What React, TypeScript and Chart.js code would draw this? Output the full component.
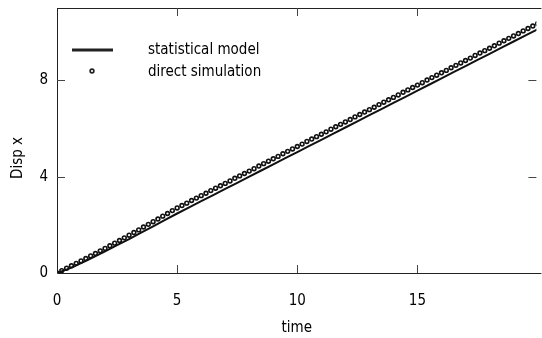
import React, { useEffect, useRef } from "react";
import { Chart, registerables } from "chart.js";

Chart.register(...registerables);

const simTimes: number[] = Array.from({ length: 101 }, (_, i) => Math.round(i * 20) / 100);
const simValues: number[] = [
  0, 0.1, 0.2, 0.3, 0.4, 0.5, 0.6, 0.71, 0.81, 0.92,
  1.02, 1.13, 1.24, 1.35, 1.46, 1.57, 1.68, 1.79, 1.91, 2.02,
  2.13, 2.24, 2.36, 2.47, 2.59, 2.7, 2.8, 2.9, 3.01, 3.11,
  3.21, 3.31, 3.42, 3.52, 3.62, 3.72, 3.82, 3.93, 4.03, 4.13,
  4.23, 4.33, 4.44, 4.54, 4.64, 4.74, 4.84, 4.95, 5.05, 5.15,
  5.25, 5.35, 5.46, 5.56, 5.66, 5.76, 5.86, 5.97, 6.07, 6.17,
  6.27, 6.37, 6.48, 6.58, 6.68, 6.78, 6.88, 6.99, 7.09, 7.19,
  7.29, 7.39, 7.5, 7.6, 7.7, 7.8, 7.9, 8.01, 8.11, 8.21,
  8.31, 8.41, 8.52, 8.62, 8.72, 8.82, 8.92, 9.03, 9.13, 9.23,
  9.33, 9.43, 9.54, 9.64, 9.74, 9.84, 9.94, 10.05, 10.15, 10.25,
  10.35,
];
const modelTimes: number[] = [0, 0.5, 1, 1.5, 2, 3, 4, 5, 6, 7, 8, 9, 10, 11, 12, 13, 14, 15, 16, 17, 18, 19, 20];
const modelValues: number[] = [
  0, 0.18, 0.41, 0.65, 0.9, 1.41, 1.94, 2.47, 2.98, 3.49, 4.0, 4.51, 5.02,
  5.53, 6.04, 6.55, 7.06, 7.57, 8.08, 8.59, 9.1, 9.61, 10.12,
];
const xTicks: number[] = [0, 5, 10, 15];
const yTicks: number[] = [0, 4, 8];
const legendLabels: string[] = ["statistical model", "direct simulation"];
const xTitle = "time";
const yTitle = "Disp x";

const FONT = "'DejaVu Sans Condensed', 'DejaVu Sans', sans-serif";

const framePlugin = {
  id: "frame",
  afterDraw(chart: any) {
    const { ctx, chartArea, scales } = chart;
    const { left, right, top, bottom } = chartArea;
    ctx.save();
    ctx.strokeStyle = "#222";
    ctx.lineWidth = 1;
    ctx.beginPath();
    ctx.moveTo(left + 0.5, top + 0.5);
    ctx.lineTo(right + 5, top + 0.5);
    ctx.moveTo(left + 0.5, top);
    ctx.lineTo(left + 0.5, bottom + 0.5);
    ctx.lineTo(right + 5, bottom + 0.5);
    ctx.stroke();
    ctx.lineWidth = 1;
    ctx.strokeStyle = "#444";
    ctx.beginPath();
    for (const v of xTicks) {
      if (v === 0) continue;
      const x = Math.round(scales.x.getPixelForValue(v)) + 0.5;
      ctx.moveTo(x, bottom);
      ctx.lineTo(x, bottom - 8);
      ctx.moveTo(x, top);
      ctx.lineTo(x, top + 8);
    }
    for (const v of yTicks) {
      if (v === 0) continue;
      const y = Math.round(scales.y.getPixelForValue(v)) + 0.5;
      ctx.moveTo(left, y);
      ctx.lineTo(left + 8, y);
      ctx.moveTo(right, y);
      ctx.lineTo(right - 8, y);
    }
    ctx.stroke();

    // legend
    ctx.strokeStyle = "#222";
    ctx.lineWidth = 3;
    ctx.beginPath();
    ctx.moveTo(72, 50);
    ctx.lineTo(113, 50);
    ctx.stroke();
    ctx.lineWidth = 1.6;
    ctx.fillStyle = "#fff";
    ctx.beginPath();
    ctx.arc(92, 71, 1.9, 0, Math.PI * 2);
    ctx.fill();
    ctx.stroke();
    ctx.fillStyle = "#000";
    ctx.font = `15px ${FONT}`;
    ctx.textAlign = "left";
    ctx.textBaseline = "middle";
    ctx.fillText(legendLabels[0], 148, 50);
    ctx.fillText(legendLabels[1], 148, 72);

    // y title
    ctx.save();
    ctx.translate(18, 158);
    ctx.rotate(-Math.PI / 2);
    ctx.textAlign = "center";
    ctx.fillText(yTitle, 0, 0);
    ctx.restore();
    ctx.restore();
  },
};

export default function App() {
  const ref = useRef<HTMLCanvasElement | null>(null);
  useEffect(() => {
    document.body.style.margin = "0";
    const chart = new Chart(ref.current as HTMLCanvasElement, {
      type: "scatter",
      data: {
        datasets: [
          {
            label: legendLabels[0],
            type: "line",
            data: modelTimes.map((t, i) => ({ x: t, y: modelValues[i] })),
            borderColor: "#111",
            borderWidth: 2,
            pointRadius: 0,
            tension: 0.3,
            fill: false,
          },
          {
            label: legendLabels[1],
            data: simTimes.map((t, i) => ({ x: t, y: simValues[i] })),
            pointRadius: 1.9,
            pointBorderWidth: 1.6,
            pointBorderColor: "#111",
            pointBackgroundColor: "#fff",
            showLine: false,
          },
        ],
      },
      options: {
        animation: false,
        responsive: false,
        devicePixelRatio: 1,
        layout: { padding: { top: 8, right: 0, left: 0, bottom: 0 } },
        plugins: { legend: { display: false }, tooltip: { enabled: false } },
        scales: {
          x: {
            type: "linear",
            min: 0,
            max: 19.95,
            grid: { display: false, drawTicks: false },
            border: { display: false },
            afterBuildTicks: (s: any) => {
              s.ticks = xTicks.map((v) => ({ value: v }));
            },
            afterFit: (s: any) => {
              s.height = 65;
              s.paddingLeft = 0;
              s.paddingRight = 0;
            },
            ticks: {
              padding: 19,
              color: "#000",
              font: { family: FONT, size: 15 },
              maxRotation: 0,
              autoSkip: false,
            },
            title: {
              display: true,
              text: xTitle,
              color: "#000",
              font: { family: FONT, size: 15 },
              padding: { top: 0, bottom: 1 },
            },
          },
          y: {
            type: "linear",
            min: 0,
            max: 11,
            grid: { display: false, drawTicks: false },
            border: { display: false },
            afterBuildTicks: (s: any) => {
              s.ticks = yTicks.map((v) => ({ value: v }));
            },
            afterFit: (s: any) => {
              s.width = 57;
              s.paddingTop = 0;
              s.paddingBottom = 0;
            },
            ticks: {
              padding: 9,
              color: "#000",
              font: { family: FONT, size: 15 },
            },
          },
        },
      },
      plugins: [framePlugin],
    });
    return () => chart.destroy();
  }, []);
  return (
    <div style={{ width: 542, height: 338, overflow: "hidden", background: "#fff" }}>
      <canvas ref={ref} width={542} height={338} style={{ display: "block" }} />
    </div>
  );
}
